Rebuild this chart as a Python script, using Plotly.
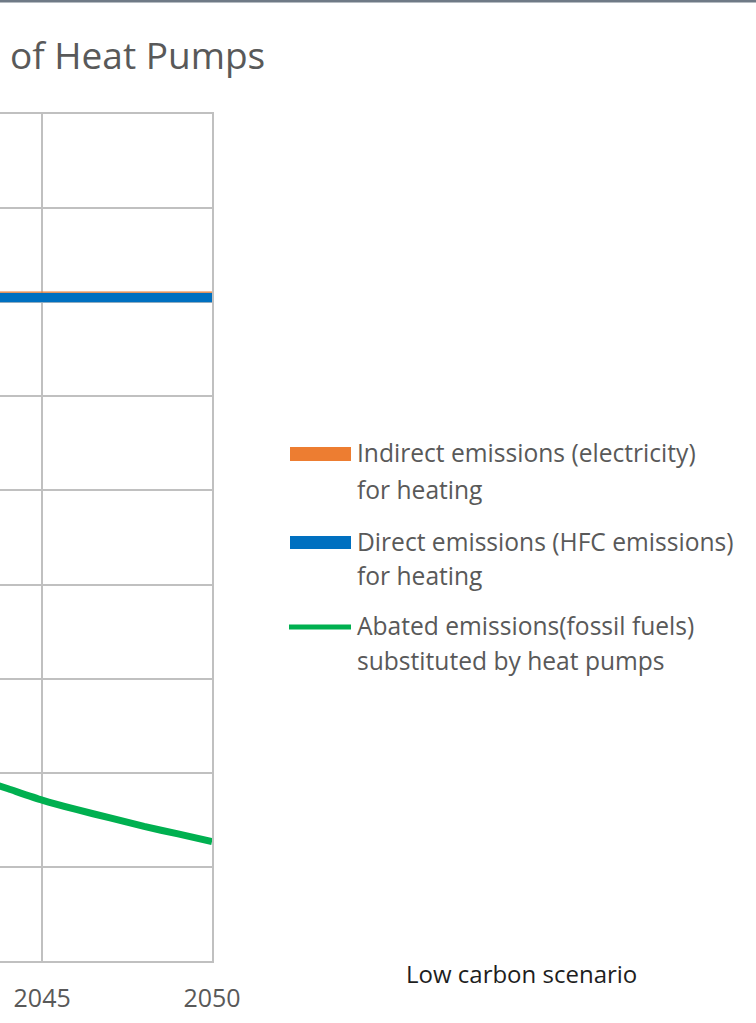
import plotly.graph_objects as go

years = [2043, 2044, 2045, 2046, 2047, 2048, 2049, 2050]
direct_hfc = [10, 10, 10, 10, 10, 10, 10, 10]
indirect_elec = [1.5, 1.5, 1.5, 1.5, 1.5, 1.5, 1.5, 1.5]
abated = [-505, -517, -529, -539, -548, -557, -565, -573]

series_names = ["Indirect emissions (electricity)", "Direct emissions (HFC emissions)",
                "Abated emissions(fossil fuels)"]
series_sub = ["for heating", "for heating", "substituted by heat pumps"]
series_colors = ["#ED7D31", "#0070C0", "#00B050"]
tick_years = [2045, 2050]
tick_labels = ["2045", "2050"]

GRAY = "#595959"
GRID = "#c0c0c0"
FONT = "Open Sans"

# page geometry helpers (plot area: x 0..212 px, y 114..961 px)
PW, PT, PB = 212.0, 114.0, 961.0
def px(x):
    return x / PW
def py(y):
    return (PB - y) / (PB - PT)

fig = go.Figure()
fig.add_trace(go.Scatter(x=years, y=direct_hfc, name=series_names[1], stackgroup="pos",
                         mode="lines", line=dict(width=0, color=series_colors[1]),
                         fillcolor=series_colors[1]))
fig.add_trace(go.Scatter(x=years, y=indirect_elec, name=series_names[0], stackgroup="pos",
                         mode="lines", line=dict(width=0, color=series_colors[0]),
                         fillcolor=series_colors[0]))
fig.add_trace(go.Scatter(x=years, y=abated, name=series_names[2], mode="lines",
                         line=dict(width=7, color=series_colors[2], shape="spline", smoothing=0.6)))

annotations = [
    dict(text="of Heat Pumps", xref="paper", yref="paper", x=px(8), y=py(54),
         xanchor="left", yanchor="middle", showarrow=False,
         font=dict(size=37, color=GRAY, family=FONT)),
    dict(text="Low carbon scenario", xref="paper", yref="paper", x=px(404), y=py(973),
         xanchor="left", yanchor="middle", showarrow=False,
         font=dict(size=24, color="#1e1e1e", family=FONT)),
]
shapes = [dict(type="line", xref="paper", yref="paper", x0=0, x1=px(760), y0=py(1), y1=py(1),
               line=dict(color="#6f7a86", width=3))]

# legend (drawn manually to match the wide rectangular keys)
line_y = [(453, 489), (541, 575), (625, 660)]
for i in range(3):
    y1, y2 = line_y[i]
    annotations.append(dict(text=series_names[i], xref="paper", yref="paper", x=px(355), y=py(y1),
                            xanchor="left", yanchor="middle", showarrow=False,
                            font=dict(size=24.6, color=GRAY, family=FONT)))
    annotations.append(dict(text=series_sub[i], xref="paper", yref="paper", x=px(355), y=py(y2),
                            xanchor="left", yanchor="middle", showarrow=False,
                            font=dict(size=24.6, color=GRAY, family=FONT)))
shapes.append(dict(type="rect", xref="paper", yref="paper", x0=px(290), x1=px(351),
                   y0=py(461), y1=py(447), fillcolor=series_colors[0], line=dict(width=0)))
shapes.append(dict(type="rect", xref="paper", yref="paper", x0=px(290), x1=px(351),
                   y0=py(549), y1=py(536), fillcolor=series_colors[1], line=dict(width=0)))
shapes.append(dict(type="line", xref="paper", yref="paper", x0=px(289), x1=px(351),
                   y0=py(627), y1=py(627), line=dict(color=series_colors[2], width=5)))

fig.update_layout(
    width=756, height=1023,
    margin=dict(l=0, r=544, t=114, b=62),
    paper_bgcolor="white", plot_bgcolor="white",
    font=dict(family=FONT, color=GRAY),
    showlegend=False,
    xaxis=dict(range=[2043.76, 2050], tickvals=tick_years, ticktext=tick_labels,
               showgrid=True, gridcolor=GRID, gridwidth=2, zeroline=False,
               showline=True, mirror=True, linecolor=GRID, linewidth=2, layer="below traces",
               tickfont=dict(size=25, color=GRAY, family=FONT), ticks="", ticklabelstandoff=14),
    yaxis=dict(range=[-700, 200], dtick=100, showgrid=True, gridcolor=GRID, gridwidth=2,
               zeroline=True, zerolinecolor=GRID, zerolinewidth=2, showticklabels=False,
               side="right", showline=True, linecolor=GRID, linewidth=2, layer="below traces",
               ticks=""),
    annotations=annotations,
    shapes=shapes,
)

fig.write_html("out.html", config={"displayModeBar": False},
               post_script="document.body.style.margin='0';")
